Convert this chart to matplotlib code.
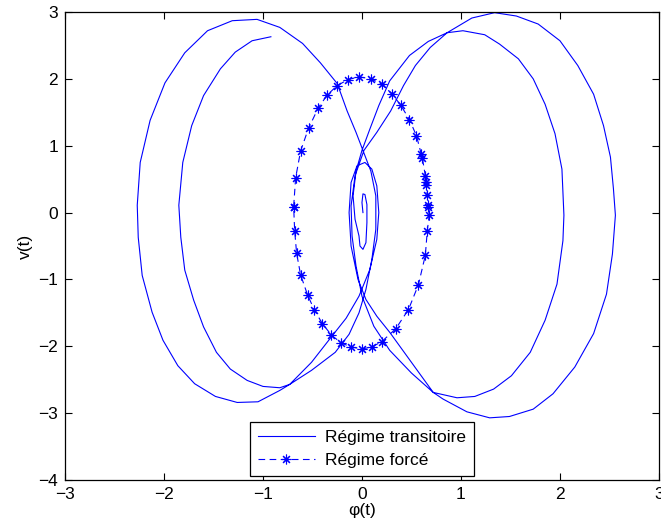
import matplotlib
matplotlib.use("Agg")
import matplotlib.pyplot as plt
import numpy as np

plt.rcParams["font.family"] = ["Liberation Sans", "DejaVu Sans"]

# transient trajectory, in drawing order
# inner left loop (starts at its open end)
left_in_phi = [-0.92, -1.11, -1.28, -1.43, -1.60, -1.72, -1.81, -1.85, -1.83, -1.79,
               -1.70, -1.60, -1.47, -1.33, -1.16, -1.00, -0.83, -0.73, -0.51, -0.27]
left_in_v = [2.63, 2.57, 2.40, 2.15, 1.75, 1.30, 0.75, 0.11, -0.37, -0.86,
             -1.31, -1.71, -2.09, -2.34, -2.51, -2.60, -2.62, -2.57, -2.36, -2.09]

# through the centre up to the outer left loop
cross_a_phi = [-0.13, -0.03, 0.04, 0.10, 0.14, 0.14, 0.09, 0.01, -0.06, -0.15, -0.25]
cross_a_v = [-1.82, -1.50, -1.15, -0.70, -0.25, 0.25, 0.62, 0.93, 1.20, 1.52, 1.93]

# outer left loop
left_out_phi = [-0.42, -0.60, -0.83, -1.06, -1.31, -1.56, -1.79, -1.99, -2.14, -2.24,
                -2.27, -2.26, -2.22, -2.12, -2.01, -1.86, -1.69, -1.48, -1.26, -1.05,
                -0.83, -0.73, -0.51, -0.32]
left_out_v = [2.24, 2.53, 2.77, 2.89, 2.87, 2.72, 2.39, 1.94, 1.38, 0.75,
              0.11, -0.37, -0.94, -1.49, -1.91, -2.29, -2.56, -2.75, -2.84, -2.83,
              -2.66, -2.57, -2.24, -1.88]

# small arch in the centre, down to the outer right loop
arch_phi = [-0.16, -0.03, 0.08, 0.15, 0.17, 0.15, 0.10, 0.03, -0.05, -0.11,
            -0.13, -0.11, -0.04, 0.04, 0.15, 0.28, 0.50]
arch_v = [-1.58, -1.25, -0.85, -0.40, 0.00, 0.40, 0.65, 0.75, 0.70, 0.45,
          0.00, -0.50, -1.00, -1.30, -1.55, -1.79, -2.24]

# outer right loop
right_out_phi = [0.72, 0.82, 1.06, 1.29, 1.49, 1.73, 1.93, 2.15, 2.34, 2.47,
                 2.53, 2.56, 2.54, 2.51, 2.44, 2.34, 2.18, 2.00, 1.78, 1.56,
                 1.34, 1.11, 0.86, 0.69, 0.54, 0.42, 0.29]
right_out_v = [-2.69, -2.79, -2.98, -3.07, -3.05, -2.94, -2.71, -2.31, -1.81, -1.22,
               -0.62, -0.04, 0.36, 0.83, 1.30, 1.77, 2.20, 2.57, 2.82, 2.94,
               2.99, 2.91, 2.69, 2.47, 2.20, 1.90, 1.52]

# through the centre down to the inner right loop
cross_b_phi = [0.15, 0.02, -0.07, -0.11, -0.10, -0.06, 0.00, 0.12, 0.28, 0.50]
cross_b_v = [1.20, 0.93, 0.55, 0.10, -0.35, -0.80, -1.25, -1.70, -2.06, -2.40]

# inner right loop
right_in_phi = [0.72, 0.96, 1.14, 1.33, 1.51, 1.70, 1.85, 1.97, 2.03, 2.04,
                2.02, 1.95, 1.85, 1.73, 1.58, 1.39, 1.24, 1.02, 0.86, 0.67,
                0.48, 0.28, 0.17, 0.08]
right_in_v = [-2.69, -2.77, -2.75, -2.64, -2.44, -2.09, -1.61, -1.07, -0.42, -0.04,
              0.65, 1.18, 1.62, 2.00, 2.30, 2.52, 2.66, 2.72, 2.69, 2.56,
              2.35, 1.97, 1.60, 1.25]

# final small spiral around the origin
spiral_phi = [0.00, -0.06, -0.09, -0.07, -0.03, -0.02, 0.01, 0.04, 0.05, 0.05,
              0.03, 0.01, 0.00, 0.01]
spiral_v = [0.93, 0.62, 0.25, -0.10, -0.35, -0.50, -0.55, -0.45, -0.15, 0.12,
            0.27, 0.28, 0.15, 0.00]

# forced regime samples
forced_phi = [-0.69, -0.67, -0.62, -0.54, -0.44, -0.35, -0.25, -0.14, -0.03, 0.09,
              0.20, 0.30, 0.39, 0.48, 0.55, 0.60, 0.61, 0.64, 0.65, 0.65,
              0.66, 0.67, 0.67, 0.68, 0.66, 0.64, 0.57, 0.47, 0.34, 0.20,
              0.10, 0.00, -0.11, -0.21, -0.31, -0.40, -0.48, -0.55, -0.62, -0.66,
              -0.68, -0.69]
forced_v = [0.09, 0.52, 0.92, 1.26, 1.57, 1.76, 1.90, 1.99, 2.03, 2.00,
            1.92, 1.78, 1.61, 1.39, 1.15, 0.87, 0.82, 0.55, 0.45, 0.41,
            0.27, 0.12, 0.09, -0.03, -0.27, -0.64, -1.08, -1.45, -1.74, -1.93,
            -2.01, -2.04, -2.01, -1.95, -1.83, -1.66, -1.46, -1.23, -0.93, -0.61,
            -0.27, 0.09]

trans_phi = np.concatenate([left_in_phi, cross_a_phi, left_out_phi, arch_phi,
                            right_out_phi, cross_b_phi, right_in_phi, spiral_phi])
trans_v = np.concatenate([left_in_v, cross_a_v, left_out_v, arch_v,
                          right_out_v, cross_b_v, right_in_v, spiral_v])

fig = plt.figure(figsize=(6.61, 5.29), dpi=100)
ax = fig.add_axes([0.0983, 0.0926, 0.8986, 0.8847])

ax.plot(trans_phi, trans_v, color="blue", lw=0.8, label="Régime transitoire")
ax.plot(forced_phi, forced_v, color="blue", lw=0.8, ls=(0, (6, 4)),
        marker=(8, 2, 0), markersize=7, markeredgewidth=0.8,
        label="Régime forcé")

ax.set_xlim(-3, 3)
ax.set_ylim(-4, 3)
ax.set_xticks(range(-3, 4))
ax.set_yticks(range(-4, 4))
ax.tick_params(direction="in", top=True, right=True, length=5, labelsize=12.5,
               pad=5)
for s in ax.spines.values():
    s.set_linewidth(0.9)

ax.set_xlabel("φ(t)", fontsize=12.5, labelpad=1)
ax.set_ylabel("v(t)", fontsize=12.5, labelpad=4)

leg = ax.legend(loc="lower center", bbox_to_anchor=(0.5, 0.003), fancybox=False,
                edgecolor="black", fontsize=12.5, handlelength=3.3,
                borderaxespad=0.15, framealpha=1, borderpad=0.45,
                labelspacing=0.45, handletextpad=0.6)
leg.get_frame().set_linewidth(0.9)

fig.savefig("out.png", dpi=100)
